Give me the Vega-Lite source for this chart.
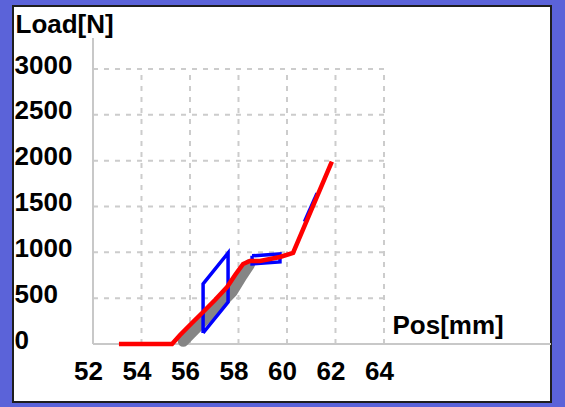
{
  "$schema": "https://vega.github.io/schema/vega-lite/v6.json",
  "width": 538,
  "height": 396,
  "autosize": "none",
  "padding": {"left": 13, "top": 6, "right": 14, "bottom": 5},
  "background": "#5b63d9",
  "config": {
    "view": {"fill": "white", "stroke": "#1e1e1e", "strokeWidth": 2},
    "font": "Liberation Sans"
  },
  "data": {
    "values": [
      {"s": "gray", "seg": 1, "i": 1, "x": 55.72, "y": 30},
      {"s": "gray", "seg": 1, "i": 2, "x": 56.38, "y": 205},
      {"s": "gray", "seg": 1, "i": 3, "x": 57.08, "y": 390},
      {"s": "gray", "seg": 1, "i": 4, "x": 57.74, "y": 570},
      {"s": "gray", "seg": 1, "i": 5, "x": 58.15, "y": 745},
      {"s": "gray", "seg": 1, "i": 6, "x": 58.45, "y": 865},
      {"s": "blue", "seg": 1, "i": 1, "x": 56.54, "y": 120},
      {"s": "blue", "seg": 1, "i": 2, "x": 56.54, "y": 655},
      {"s": "blue", "seg": 1, "i": 3, "x": 57.57, "y": 993},
      {"s": "blue", "seg": 1, "i": 4, "x": 57.57, "y": 458},
      {"s": "blue", "seg": 1, "i": 5, "x": 56.54, "y": 120},
      {"s": "blue", "seg": 2, "i": 1, "x": 58.56, "y": 962},
      {"s": "blue", "seg": 2, "i": 2, "x": 59.71, "y": 982},
      {"s": "blue", "seg": 2, "i": 3, "x": 59.71, "y": 895},
      {"s": "blue", "seg": 2, "i": 4, "x": 58.56, "y": 873},
      {"s": "blue", "seg": 2, "i": 5, "x": 58.56, "y": 962},
      {"s": "blue", "seg": 3, "i": 1, "x": 60.72, "y": 1334},
      {"s": "blue", "seg": 3, "i": 2, "x": 61.24, "y": 1644},
      {"s": "red", "seg": 1, "i": 1, "x": 53.07, "y": 0},
      {"s": "red", "seg": 1, "i": 2, "x": 55.26, "y": 0},
      {"s": "red", "seg": 1, "i": 3, "x": 55.59, "y": 98},
      {"s": "red", "seg": 1, "i": 4, "x": 56.08, "y": 229},
      {"s": "red", "seg": 1, "i": 5, "x": 56.54, "y": 349},
      {"s": "red", "seg": 1, "i": 6, "x": 57.03, "y": 480},
      {"s": "red", "seg": 1, "i": 7, "x": 57.53, "y": 622},
      {"s": "red", "seg": 1, "i": 8, "x": 57.86, "y": 753},
      {"s": "red", "seg": 1, "i": 9, "x": 58.19, "y": 873},
      {"s": "red", "seg": 1, "i": 10, "x": 58.47, "y": 906},
      {"s": "red", "seg": 1, "i": 11, "x": 58.89, "y": 906},
      {"s": "red", "seg": 1, "i": 12, "x": 59.71, "y": 949},
      {"s": "red", "seg": 1, "i": 13, "x": 60.25, "y": 993},
      {"s": "red", "seg": 1, "i": 14, "x": 61.85, "y": 1990}
    ]
  },
  "layer": [
    {
      "data": {"values": [{"gx": 54}, {"gx": 56}, {"gx": 58}, {"gx": 60}, {"gx": 62}, {"gx": 64}]},
      "mark": {"type": "rule", "color": "#cccccc", "strokeWidth": 2, "strokeDash": [5, 6]},
      "encoding": {
        "x": {"field": "gx", "type": "quantitative"},
        "y": {"datum": 0, "type": "quantitative"},
        "y2": {"datum": 3000}
      }
    },
    {
      "data": {"values": [{"gy": 500}, {"gy": 1000}, {"gy": 1500}, {"gy": 2000}, {"gy": 2500}, {"gy": 3000}]},
      "mark": {"type": "rule", "color": "#cccccc", "strokeWidth": 2, "strokeDash": [5, 6]},
      "encoding": {
        "y": {"field": "gy", "type": "quantitative"},
        "x": {"datum": 52, "type": "quantitative"},
        "x2": {"datum": 64}
      }
    },
    {
      "mark": {"type": "rule", "color": "#c8c8c8", "strokeWidth": 2},
      "encoding": {
        "x": {"datum": 52, "type": "quantitative"},
        "x2": {"datum": 70.85},
        "y": {"datum": 0, "type": "quantitative"}
      }
    },
    {
      "mark": {"type": "rule", "color": "#c8c8c8", "strokeWidth": 2},
      "encoding": {
        "x": {"datum": 52, "type": "quantitative"},
        "y": {"datum": 0, "type": "quantitative"},
        "y2": {"datum": 3338}
      }
    },
    {
      "transform": [{"filter": "datum.s === 'gray'"}],
      "mark": {"type": "line", "color": "#858585", "strokeWidth": 11, "strokeCap": "round"},
      "encoding": {
        "x": {
          "field": "x", "type": "quantitative",
          "scale": {"domain": [48.701, 70.887], "nice": false, "zero": false},
          "axis": {
            "values": [52, 54, 56, 58, 60, 62, 64],
            "domain": false, "ticks": false, "tickSize": 0, "grid": false,
            "offset": -58,
            "labelFontSize": 26, "labelFontWeight": "bold", "labelColor": "black",
            "labelFont": "Liberation Sans",
            "labelPadding": 35, "labelBaseline": "alphabetic", "labelOffset": -5,
            "labelFlush": false, "labelOverlap": false,
            "title": "Pos[mm]", "titleFontSize": 26, "titleFontWeight": "bold",
            "titleColor": "black", "titleFont": "Liberation Sans",
            "titleX": 379, "titleY": -11, "titleAlign": "left", "titleBaseline": "alphabetic"
          }
        },
        "y": {
          "field": "y", "type": "quantitative",
          "scale": {"domain": [-632.7, 3687.3], "nice": false, "zero": false},
          "axis": {
            "values": [0, 500, 1000, 1500, 2000, 2500, 3000],
            "format": "d",
            "domain": false, "ticks": false, "tickSize": 0, "grid": false,
            "offset": -80,
            "labelFontSize": 26, "labelFontWeight": "bold", "labelColor": "black",
            "labelFont": "Liberation Sans",
            "labelAlign": "left", "labelPadding": 79, "labelBaseline": "alphabetic", "labelOffset": 4,
            "labelFlush": false, "labelOverlap": false,
            "title": "Load[N]", "titleFontSize": 26, "titleFontWeight": "bold",
            "titleColor": "black", "titleFont": "Liberation Sans", "titleAngle": 0,
            "titleX": -78, "titleY": 26, "titleAlign": "left", "titleBaseline": "alphabetic"
          }
        },
        "order": {"field": "i", "type": "quantitative"}
      }
    },
    {
      "transform": [{"filter": "datum.s === 'blue'"}],
      "mark": {"type": "line", "color": "#0000ff", "strokeWidth": 3.5},
      "encoding": {
        "x": {"field": "x", "type": "quantitative"},
        "y": {"field": "y", "type": "quantitative"},
        "detail": {"field": "seg", "type": "nominal"},
        "order": {"field": "i", "type": "quantitative"},
        "strokeWidth": {"condition": {"test": "datum.seg === 3", "value": 6}, "value": 3.5}
      }
    },
    {
      "transform": [{"filter": "datum.s === 'red'"}],
      "mark": {"type": "line", "color": "#ff0000", "strokeWidth": 4.5},
      "encoding": {
        "x": {"field": "x", "type": "quantitative"},
        "y": {"field": "y", "type": "quantitative"},
        "order": {"field": "i", "type": "quantitative"}
      }
    }
  ]
}
